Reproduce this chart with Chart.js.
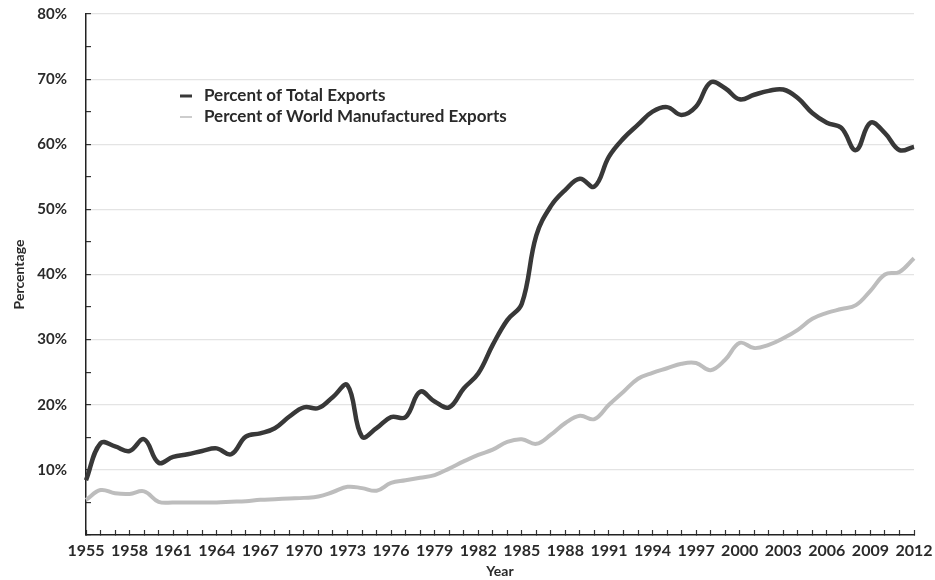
<!DOCTYPE html>
<html>
<head>
<meta charset="utf-8">
<script src="https://cdn.jsdelivr.net/npm/chart.js@4"></script>
<style>
    body { margin: 0; background: #fff; }
    #wrap { width: 935px; height: 580px; }
</style>
</head>
<body>
<div id="wrap"><canvas id="grafico"></canvas></div>
<script>
const anos = ['1955', '1956', '1957', '1958', '1959', '1960', '1961', '1962', '1963', '1964',
    '1965', '1966', '1967', '1968', '1969', '1970', '1971', '1972', '1973', '1974',
    '1975', '1976', '1977', '1978', '1979', '1980', '1981', '1982', '1983', '1984',
    '1985', '1986', '1987', '1988', '1989', '1990', '1991', '1992', '1993', '1994',
    '1995', '1996', '1997', '1998', '1999', '2000', '2001', '2002', '2003', '2004',
    '2005', '2006', '2007', '2008', '2009', '2010', '2011', '2012'];

const totalExports = [8.4, 14.1, 13.6, 12.9, 14.7, 11.1, 12.0, 12.4, 12.9, 13.3,
    12.4, 15.1, 15.6, 16.4, 18.2, 19.6, 19.5, 21.2, 23.0, 15.1,
    16.4, 18.1, 18.1, 22.0, 20.5, 19.6, 22.5, 24.8, 29.2, 33.0,
    35.5, 46.0, 50.5, 53.0, 54.7, 53.5, 58.1, 60.9, 63.0, 65.0,
    65.7, 64.5, 65.8, 69.5, 68.6, 66.9, 67.6, 68.2, 68.4, 67.1,
    64.8, 63.3, 62.5, 59.1, 63.3, 61.7, 59.1, 59.6];

const worldManufactured = [5.4, 6.9, 6.4, 6.3, 6.7, 5.1, 5.0, 5.0, 5.0, 5.0,
    5.1, 5.2, 5.4, 5.5, 5.6, 5.7, 5.9, 6.6, 7.4, 7.2,
    6.8, 8.0, 8.4, 8.8, 9.2, 10.2, 11.3, 12.3, 13.1, 14.3,
    14.7, 14.0, 15.4, 17.2, 18.3, 17.8, 20.0, 22.0, 24.0, 24.9,
    25.6, 26.3, 26.4, 25.3, 26.9, 29.5, 28.7, 29.2, 30.2, 31.5,
    33.2, 34.1, 34.7, 35.3, 37.5, 40.0, 40.4, 42.5];

const rotulos = ['Percent of Total Exports', 'Percent of World Manufactured Exports'];
const yTicks = [10, 20, 30, 40, 50, 60, 70, 80];

const fonte = "'Lato', 'DejaVu Sans', sans-serif";
Chart.defaults.font.family = fonte;
Chart.defaults.color = '#2a2a2a';

// legenda desenhada dentro da area do grafico
const legendaInterna = {
    id: 'legendaInterna',
    afterDraw(chart) {
        const ctx = chart.ctx;
        const area = chart.chartArea;
        let y = area.top + 82;
        ctx.save();
        ctx.font = "bold 17px " + fonte;
        ctx.textBaseline = 'middle';
        chart.data.datasets.forEach((ds, i) => {
            ctx.strokeStyle = ds.borderColor;
            ctx.lineWidth = i === 0 ? 3 : 1.5;
            ctx.beginPath();
            ctx.moveTo(area.left + 94, y);
            ctx.lineTo(area.left + 106, y);
            ctx.stroke();
            ctx.fillStyle = '#2a2a2a';
            ctx.fillText(ds.label, area.left + 118, y);
            y += 21;
        });
        ctx.restore();
    }
};

new Chart(document.getElementById('grafico'), {
    type: 'line',
    data: {
        labels: anos,
        datasets: [{
            label: rotulos[0],
            data: totalExports,
            borderColor: '#383838',
            borderWidth: 4.5,
            pointRadius: 0,
            tension: 0.4
        }, {
            label: rotulos[1],
            data: worldManufactured,
            borderColor: '#bdbdbd',
            borderWidth: 4,
            pointRadius: 0,
            tension: 0.4
        }]
    },
    options: {
        responsive: true,
        maintainAspectRatio: false,
        animation: false,
        layout: { padding: { top: 14, right: 21, left: 11, bottom: 0 } },
        plugins: {
            legend: { display: false },
            tooltip: { enabled: false }
        },
        scales: {
            x: {
                offset: false,
                afterFit: scale => {
                    scale.height = 45;
                    scale.paddingLeft = 0;
                    scale.paddingRight = 0;
                },
                grid: {
                    drawOnChartArea: false,
                    tickLength: -5,
                    tickColor: '#333',
                    tickWidth: 1.2
                },
                border: { color: '#222', width: 1.5 },
                ticks: {
                    autoSkip: false,
                    maxRotation: 0,
                    padding: 11,
                    font: { size: 16, weight: 'bold' },
                    callback: (v, i) => (i % 3 === 0 ? anos[i] : '')
                },
                title: {
                    display: true,
                    text: 'Year',
                    font: { size: 14, weight: 'bold' },
                    padding: { top: 0, bottom: 0 }
                }
            },
            y: {
                min: 0,
                max: 80,
                afterFit: scale => {
                    scale.width = 75;
                    scale.paddingTop = 0;
                    scale.paddingBottom = 0;
                },
                grid: {
                    color: c => (yTicks.includes(c.tick.value) ? '#e4e4e4' : 'transparent'),
                    lineWidth: 1.2,
                    tickLength: -5,
                    tickColor: '#333',
                    tickWidth: 1.2
                },
                border: { color: '#222', width: 1.5 },
                ticks: {
                    stepSize: 5,
                    padding: 24,
                    font: { size: 15, weight: 'bold' },
                    callback: v => (yTicks.includes(v) ? v + '%' : '')
                },
                title: {
                    display: true,
                    text: 'Percentage',
                    font: { size: 14, weight: 'bold' },
                    padding: { top: 0, bottom: 0 }
                }
            }
        }
    },
    plugins: [legendaInterna]
});
</script>
</body>
</html>
